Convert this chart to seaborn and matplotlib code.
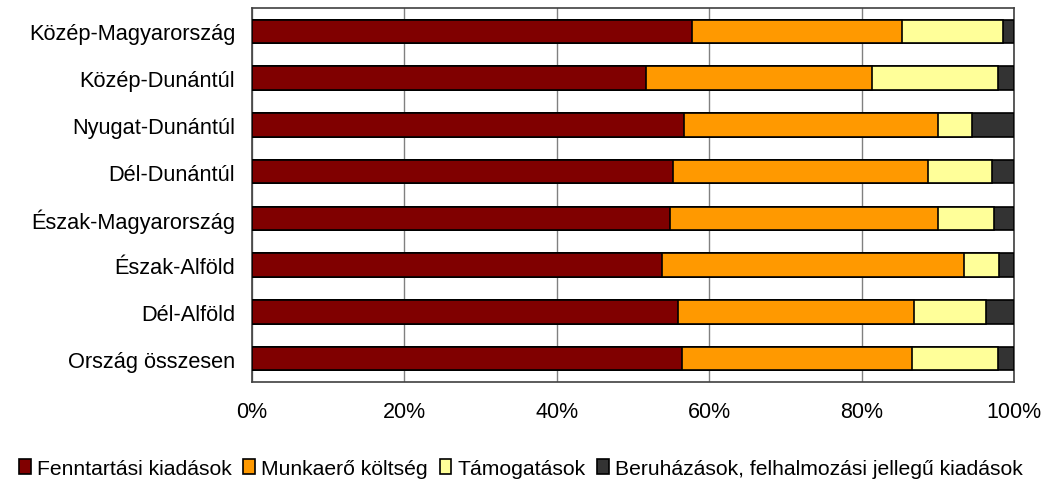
import matplotlib
matplotlib.use("Agg")
import matplotlib.pyplot as plt
from matplotlib.patches import Patch
from matplotlib.ticker import FixedLocator
import seaborn as sns
import pandas as pd
import numpy as np

regions = ["Közép-Magyarország", "Közép-Dunántúl", "Nyugat-Dunántúl", "Dél-Dunántúl",
           "Észak-Magyarország", "Észak-Alföld", "Dél-Alföld", "Ország összesen"]
fenntartasi = [57.7, 51.7, 56.7, 55.2, 54.9, 53.8, 55.9, 56.4]
munkaero = [27.6, 29.7, 33.3, 33.5, 35.1, 39.6, 31.0, 30.2]
tamogatasok = [13.3, 16.5, 4.5, 8.4, 7.4, 4.7, 9.4, 11.3]
beruhazasok = [1.4, 2.1, 5.5, 2.9, 2.6, 1.9, 3.7, 2.1]

series_names = ["Fenntartási kiadások", "Munkaerő költség", "Támogatások",
                "Beruházások, felhalmozási jellegű kiadások"]
colors = ["#800000", "#FF9900", "#FFFF99", "#333333"]

sns.set_style("white")
plt.rcParams["font.family"] = ["Liberation Sans", "DejaVu Sans"]
plt.rcParams["text.color"] = "black"
plt.rcParams["xtick.labelcolor"] = "black"
plt.rcParams["ytick.labelcolor"] = "black"

df = pd.DataFrame({
    "region": regions,
    "s1": fenntartasi,
    "s2": munkaero,
    "s3": tamogatasok,
    "s4": beruhazasok,
})
cols = ["s1", "s2", "s3", "s4"]
cum = df[cols].cumsum(axis=1)
total = cum["s4"].values
# normalise to 100%
for c in cols:
    cum[c] = cum[c] / total * 100
cum["region"] = regions

fig = plt.figure(figsize=(10.42, 4.89), dpi=100)
ax = fig.add_axes([0.2418, 0.2168, 0.9731 - 0.2418, 0.9816 - 0.2168])

# stacked bars: draw cumulative widths from largest to smallest
for c, col in zip(reversed(cols), reversed(colors)):
    sns.barplot(data=cum, x=c, y="region", orient="h", color=col,
                width=0.5, edgecolor="black", linewidth=1.2,
                errorbar=None, saturation=1, ax=ax, zorder=3)

ax.set_xlim(0, 100)
ax.set_ylim(len(regions) - 0.5, -0.5)
ax.set_xticks(np.arange(0, 101, 20))
ax.set_xticklabels([f"{v}%" for v in range(0, 101, 20)], fontsize=15.5)
ax.set_xlabel("")
ax.set_ylabel("")
ax.tick_params(axis="y", which="major", length=0, pad=12, labelsize=15.7)
ax.yaxis.set_minor_locator(FixedLocator(np.arange(-0.5, len(regions), 1)))
ax.tick_params(axis="y", which="minor", length=5, width=1, color="#404040",
               direction="out")
ax.tick_params(axis="x", which="major", length=5, width=1, color="#404040",
               direction="out", pad=9)

ax.grid(axis="x", color="#808080", linewidth=1, zorder=0)
ax.set_axisbelow(True)
for s in ax.spines.values():
    s.set_color("#404040")
    s.set_linewidth(1.2)

handles = [Patch(facecolor=c, edgecolor="black", linewidth=1.2) for c in colors]
fig.legend(handles, series_names, loc="center", bbox_to_anchor=(0.5, 0.04),
           ncol=4, frameon=False, fontsize=15.2, handlelength=0.55,
           handleheight=0.75, handletextpad=0.3, columnspacing=0.55,
           borderaxespad=0)

fig.savefig("out.png", dpi=100)
